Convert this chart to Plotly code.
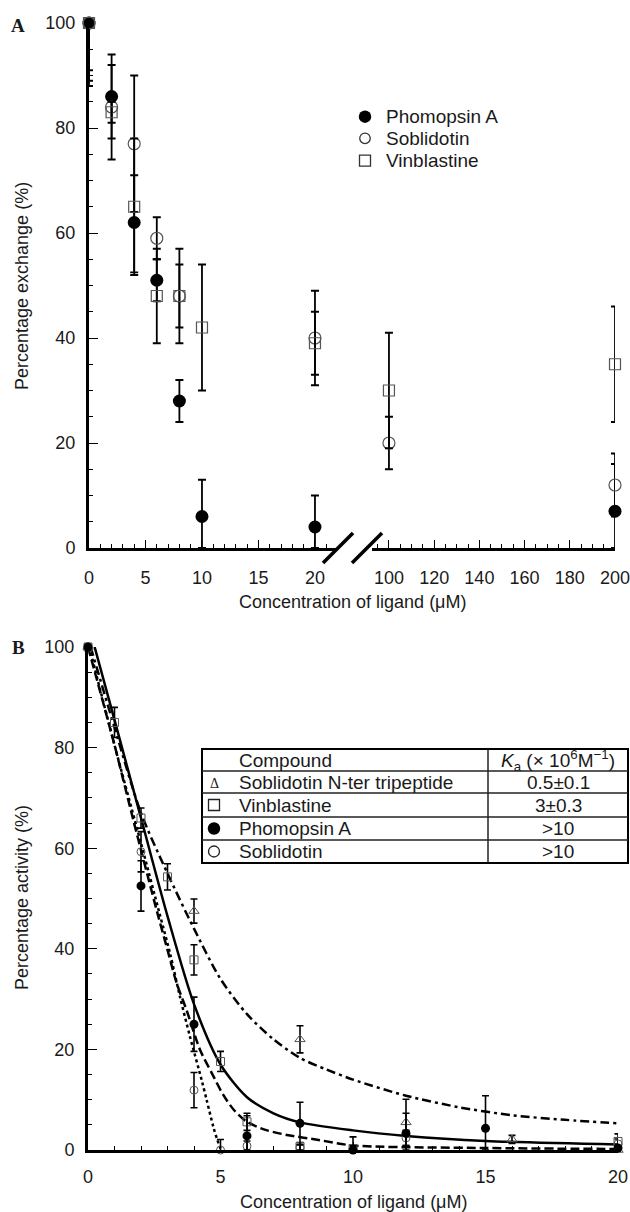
import plotly.graph_objects as go

W, H = 630, 1212

# ---------------- Panel A data (percentage exchange) ----------------
a_pho_x = [0, 2, 4, 6, 8, 10, 20, 200]
a_pho_y = [100, 86, 62, 51, 28, 6, 4, 7]
a_pho_up = [0, 6, 9, 4, 4, 7, 6, 9]
a_pho_dn = [9, 8, 9.5, 4, 4, 6, 4, 7]

a_sob_x = [0, 2, 4, 6, 8, 20, 100, 200]
a_sob_y = [100, 84, 77, 59, 48, 40, 20, 12]
a_sob_up = [0, 10, 13, 4, 6, 9, 5, 6]
a_sob_dn = [11, 10, 13, 4, 6, 9, 5, 6]

a_vin_x = [0, 2, 4, 6, 8, 10, 20, 100, 200]
a_vin_y = [100, 83, 65, 48, 48, 42, 39, 30, 35]
a_vin_up = [0, 2, 13, 9, 9, 12, 6, 11, 11]
a_vin_dn = [12, 2, 13, 9, 9, 12, 6, 11, 11]

a_names = ["Phomopsin A", "Soblidotin", "Vinblastine"]
a_xticks_low = [0, 5, 10, 15, 20]
a_xticks_high = [100, 120, 140, 160, 180, 200]
a_yticks = [0, 20, 40, 60, 80, 100]

# ---------------- Panel B data (percentage activity) ----------------
b_tri_x = [0, 4, 8, 12, 16, 20]
b_tri_y = [100, 47.5, 22, 5.5, 2.1, 0]
b_tri_err = [0, 2.4, 2.7, 4.6, 0.8, 0]

b_vin_x = [0, 1, 2, 3, 4, 5, 6, 8, 10, 20]
b_vin_y = [100, 85, 66, 54.3, 37.8, 17.6, 5.6, 0.7, 0.3, 1.7]
b_vin_err = [0, 3, 2, 2.6, 3, 2, 1.7, 0.8, 0.5, 1.5]

b_pho_x = [0, 2, 4, 6, 8, 10, 12, 15, 20]
b_pho_y = [100, 52.5, 25, 2.8, 5.3, 0, 3.3, 4.3, 0.4]
b_pho_up = [0, 5, 5.4, 4, 4.2, 2.6, 4, 6.5, 0.5]
b_pho_dn = [0, 5, 5.4, 2.8, 4.2, 0, 3.3, 4.3, 0.4]

b_sob_x = [0, 2, 4, 5, 6, 8, 12, 20]
b_sob_y = [100, 59.3, 11.9, 0, 0.8, 0.5, 2.4, 1.2]
b_sob_err = [0, 4, 3.5, 2.1, 1, 0.5, 1.5, 1]

# fitted curves
fit_solid_x = [0.25, 1, 2, 3, 4, 5, 6, 7, 8, 10, 12, 15, 20]
fit_solid_y = [100, 85.5, 66, 46.5, 29, 17, 10.5, 7.3, 5.5, 3.9, 2.8, 1.8, 1.1]

fit_dash_x = [0, 1, 1.71, 2.62, 3.0, 3.35, 3.72, 4.23, 4.7, 5.1, 5.5, 6.0, 6.7, 7.5, 8.7, 10, 15, 20]
fit_dash_y = [100, 80.5, 65.6, 47.1, 39.8, 33.1, 27.8, 19.9, 15, 11, 8, 5.6, 4.0, 3.0, 2.0, 0.9, 0.4, 0.2]

fit_dot_x = [0.05, 1, 2, 2.7, 3.1, 3.47, 3.85, 4.29, 4.48, 4.73, 4.88, 5.0]
fit_dot_y = [100, 80.5, 61, 47, 39, 30.5, 22.5, 13.9, 9.9, 4.6, 2.0, 0.3]

fit_dashdot_x = [0.1, 1, 2, 3, 4, 5, 6, 7, 8, 9, 10, 12, 14, 16, 18, 20]
fit_dashdot_y = [100, 84, 67, 55, 44, 34, 27, 22, 18.3, 16, 14, 10.8, 8.5, 6.9, 6.0, 5.3]

b_xticks = [0, 5, 10, 15, 20]
b_yticks = [0, 20, 40, 60, 80, 100]

# table content
tbl_symbols = ["triangle", "square", "filled", "open"]
tbl_names = ["Soblidotin N-ter tripeptide", "Vinblastine", "Phomopsin A", "Soblidotin"]
tbl_ka = ["0.5±0.1", "3±0.3", ">10", ">10"]

FONT = "Liberation Sans, Arial, Helvetica, sans-serif"
TXT = "#1a1a1a"
OPEN_COL = "#555555"


def px(x):
    return x / W


def py(y):
    return 1 - y / H


def split(xs, *arrs, low=True):
    idx = [i for i, v in enumerate(xs) if (v <= 20) == low]
    return [[xs[i] for i in idx]] + [[a[i] for i in idx] for a in arrs]


fig = go.Figure()

series_a = [
    (a_names[0], a_pho_x, a_pho_y, a_pho_up, a_pho_dn,
     dict(symbol="circle", size=13, color="black")),
    (a_names[1], a_sob_x, a_sob_y, a_sob_up, a_sob_dn,
     dict(symbol="circle-open", size=12, color=OPEN_COL, line=dict(width=1.2, color=OPEN_COL))),
    (a_names[2], a_vin_x, a_vin_y, a_vin_up, a_vin_dn,
     dict(symbol="square-open", size=11, color=OPEN_COL, line=dict(width=1.2, color=OPEN_COL))),
]

for name, xs, ys, up, dn, mk in series_a:
    for low, xa in ((True, "x"), (False, "x2")):
        sx, sy, su, sd = split(xs, ys, up, dn, low=low)
        fig.add_trace(go.Scatter(
            x=sx, y=sy, mode="markers", name=name, marker=mk,
            xaxis=xa, yaxis="y", cliponaxis=False, showlegend=False,
            error_y=dict(type="data", symmetric=False, array=su, arrayminus=sd,
                         color="black", thickness=1.8, width=4),
        ))

# Panel B curves
curves = [
    (fit_dashdot_x, fit_dashdot_y, "9px,4px,3px,4px"),
    (fit_dot_x, fit_dot_y, "3px,3px"),
    (fit_dash_x, fit_dash_y, "9px,4px"),
    (fit_solid_x, fit_solid_y, "solid"),
]
for cx, cy, dash in curves:
    fig.add_trace(go.Scatter(
        x=cx, y=cy, mode="lines", line=dict(color="black", width=2.5, dash=dash, shape="spline", smoothing=0.8),
        xaxis="x3", yaxis="y2", showlegend=False, hoverinfo="skip"))

series_b = [
    (b_tri_x, b_tri_y, b_tri_err, b_tri_err,
     dict(symbol="triangle-up-open", size=9, color=OPEN_COL, line=dict(width=1, color=OPEN_COL))),
    (b_vin_x, b_vin_y, b_vin_err, b_vin_err,
     dict(symbol="square-open", size=8, color=OPEN_COL, line=dict(width=1, color=OPEN_COL))),
    (b_sob_x, b_sob_y, b_sob_err, b_sob_err,
     dict(symbol="circle-open", size=8, color=OPEN_COL, line=dict(width=1, color=OPEN_COL))),
    (b_pho_x, b_pho_y, b_pho_up, b_pho_dn,
     dict(symbol="circle", size=9, color="black")),
]
for xs, ys, up, dn, mk in series_b:
    fig.add_trace(go.Scatter(
        x=xs, y=ys, mode="markers", marker=mk, xaxis="x3", yaxis="y2",
        cliponaxis=False, showlegend=False,
        error_y=dict(type="data", symmetric=False, array=up, arrayminus=dn,
                     color="black", thickness=1.6, width=3.5),
    ))

tickfont = dict(family=FONT, size=18, color=TXT)
common_axis = dict(showgrid=False, zeroline=False, showline=True, linewidth=3, linecolor="black",
                   ticks="inside", tickcolor="black", tickwidth=1.3, tickfont=tickfont,
                   automargin=False, ticklabeloverflow="allow")
minor_x = dict(ticklen=4, tickwidth=1.2, tickcolor="black", ticks="inside")

fig.update_layout(
    width=W, height=H, margin=dict(l=0, r=0, t=0, b=0, autoexpand=False),
    paper_bgcolor="white", plot_bgcolor="white", showlegend=False,
    font=dict(family=FONT, size=18, color=TXT),
    xaxis=dict(domain=[px(89), px(337)], range=[0, 21.95], anchor="y",
               tickvals=a_xticks_low, ticklen=8, ticklabelstandoff=11,
               minor=dict(dtick=1, tick0=0, **minor_x), **common_axis),
    xaxis2=dict(domain=[px(372), px(615)], range=[92.5, 200], anchor="y",
                tickvals=a_xticks_high, ticklen=8, ticklabelstandoff=11,
                minor=dict(dtick=5, tick0=0, **minor_x), **common_axis),
    yaxis=dict(domain=[py(548), py(23)], range=[0, 100], anchor="x",
               tickvals=a_yticks, ticklen=9, ticklabelstandoff=7,
               minor=dict(dtick=5, tick0=0, **minor_x), **common_axis),
    xaxis3=dict(domain=[px(88), px(618)], range=[0, 20], anchor="y2",
                tickvals=b_xticks, ticklen=8, ticklabelstandoff=8,
                minor=dict(dtick=1, tick0=0, **minor_x), **common_axis),
    yaxis2=dict(domain=[py(1150), py(647)], range=[0, 100], anchor="x3",
                tickvals=b_yticks, ticklen=9, ticklabelstandoff=7,
                minor=dict(dtick=5, tick0=0, **minor_x), **common_axis),
)

shapes = []
# axis break slashes (panel A)
for (x0, y0, x1, y1) in [(323, 563, 353, 533), (352, 563, 382, 533)]:
    shapes.append(dict(type="line", xref="paper", yref="paper", x0=px(x0), y0=py(y0), x1=px(x1), y1=py(y1),
                       line=dict(color="black", width=3.5)))


def circ(cx, cy, d, fill, lw, col):
    shapes.append(dict(type="circle", xref="paper", yref="paper", layer="above",
                       x0=px(cx - d / 2), x1=px(cx + d / 2), y0=py(cy + d / 2), y1=py(cy - d / 2),
                       fillcolor=fill, line=dict(color=col, width=lw)))


def sq(cx, cy, s, col):
    shapes.append(dict(type="rect", xref="paper", yref="paper", layer="above",
                       x0=px(cx - s / 2), x1=px(cx + s / 2), y0=py(cy + s / 2), y1=py(cy - s / 2),
                       line=dict(color=col, width=1.3)))


# legend key for panel A (drawn manually for exact spacing)
leg_x, leg_rows, leg_tx = 365, [116.7, 138.3, 160.7], 384
circ(leg_x, leg_rows[0], 12.5, "black", 0, "black")
circ(leg_x, leg_rows[1], 10.5, "rgba(0,0,0,0)", 1.3, "#333")
sq(leg_x, leg_rows[2], 11, "#333")

# table (panel B)
t_left, t_right, t_div = 202, 628, 488
t_rows = [749, 771, 793, 817, 840, 863]
shapes.append(dict(type="rect", xref="paper", yref="paper", x0=px(t_left), x1=px(t_right),
                   y0=py(t_rows[-1]), y1=py(t_rows[0]), line=dict(color="black", width=2), fillcolor="white",
                   layer="above"))
for r in t_rows[1:-1]:
    shapes.append(dict(type="line", xref="paper", yref="paper", x0=px(t_left), x1=px(t_right),
                       y0=py(r), y1=py(r), line=dict(color="#222", width=1.5), layer="above"))
shapes.append(dict(type="line", xref="paper", yref="paper", x0=px(t_div), x1=px(t_div),
                   y0=py(t_rows[-1]), y1=py(t_rows[0]), line=dict(color="#222", width=1.5), layer="above"))

sym_x = 214
sym_rows = [(t_rows[i + 1] + t_rows[i + 2]) / 2 for i in range(4)]
sq(sym_x, sym_rows[1], 11, "#222")
circ(sym_x, sym_rows[2], 12.5, "black", 0, "black")
circ(sym_x, sym_rows[3], 11, "rgba(0,0,0,0)", 1.3, "#222")
fig.update_layout(shapes=shapes)

ann = []
def text(x, y, s, size=18, xanchor="center", angle=0, family=FONT, color=TXT):
    ann.append(dict(xref="paper", yref="paper", x=px(x), y=py(y), text=s, showarrow=False,
                    xanchor=xanchor, yanchor="middle", textangle=angle,
                    font=dict(family=family, size=size, color=color)))

text(18, 26, "<b>A</b>", size=19, family="Liberation Serif, Times New Roman, serif")
text(18, 647, "<b>B</b>", size=19, family="Liberation Serif, Times New Roman, serif")
text(352, 602, "Concentration of ligand (μM)")
text(353, 1202, "Concentration of ligand (μM)")
text(22, 286, "Percentage exchange (%)", angle=-90)
text(22, 898, "Percentage activity (%)", angle=-90)

for nm, ry in zip(a_names, leg_rows):
    text(leg_tx, ry, nm, size=19, xanchor="left")

# table text
hdr_c = (t_rows[0] + t_rows[1]) / 2
text(237, hdr_c, "Compound", xanchor="left", size=19)
text((t_div + t_right) / 2, hdr_c, "<i>K</i><sub>a</sub> (× 10<sup>6</sup>M<sup>−1</sup>)", size=19)
text(sym_x, sym_rows[0] + 1, "Δ", size=14, family="Liberation Serif, Times New Roman, serif")
for i in range(4):
    yc = sym_rows[i]
    text(237, yc, tbl_names[i], xanchor="left", size=19)
    text((t_div + t_right) / 2, yc, tbl_ka[i], size=19)

fig.update_layout(annotations=ann)

fig.write_html("out.html", config={"displayModeBar": False},
               post_script="document.body.style.margin='0';document.body.style.overflow='hidden';")
